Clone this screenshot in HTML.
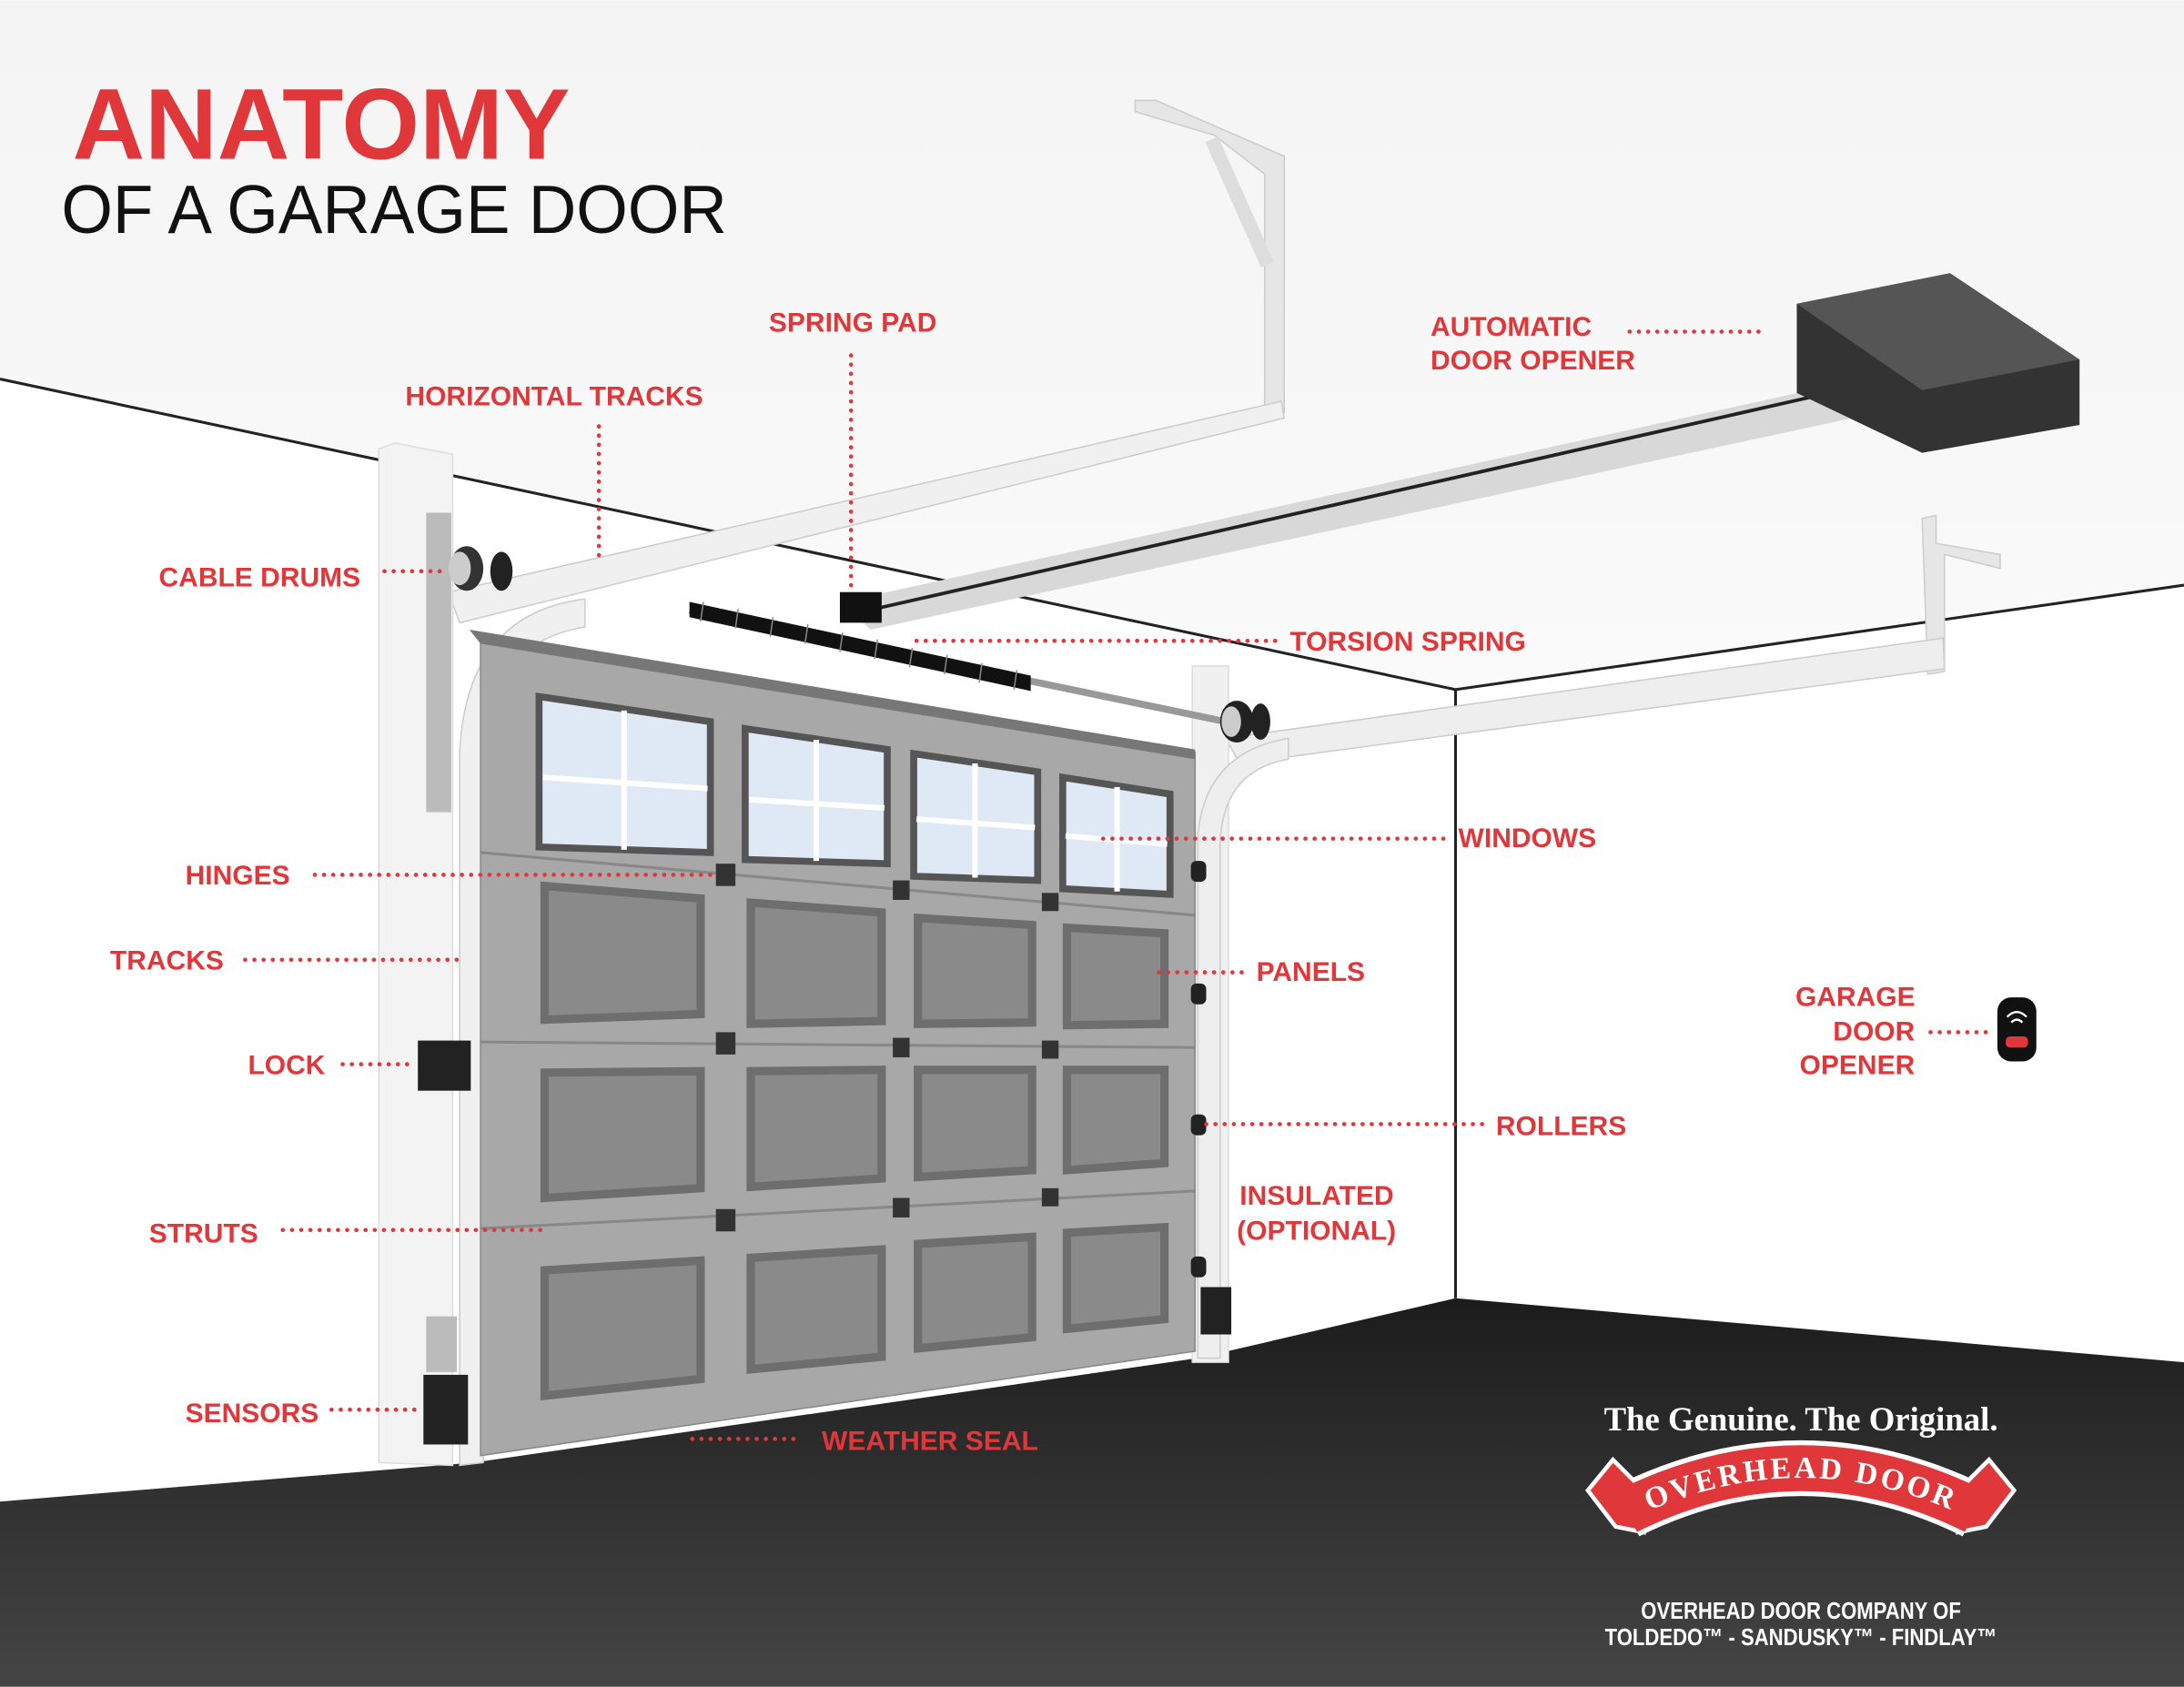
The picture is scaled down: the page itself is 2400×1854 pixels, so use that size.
<!DOCTYPE html>
<html><head><meta charset="utf-8"><style>
html,body{margin:0;padding:0;width:2400px;height:1854px;overflow:hidden;background:#fff}
svg{display:block}
.l{font-family:"Liberation Sans",sans-serif;font-weight:bold;font-size:19.6px;fill:#e0373b}
.d{stroke:#e0373b;stroke-width:3;stroke-dasharray:0.1 6.5;stroke-linecap:round;fill:none}
</style></head><body>
<svg width="2400" height="1854" viewBox="0 0 1568 1211" xmlns="http://www.w3.org/2000/svg">
<defs>
<linearGradient id="fl" x1="0" y1="0" x2="0" y2="1"><stop offset="0" stop-color="#1c1c1c"/><stop offset="1" stop-color="#454545"/></linearGradient>
<linearGradient id="cl" x1="0" y1="0" x2="0" y2="1"><stop offset="0" stop-color="#f4f4f4"/><stop offset="1" stop-color="#fafafa"/></linearGradient>
<path id="arc" d="M1168,1092 Q1293,1030 1418,1092"/>
</defs>
<rect width="1568" height="1211" fill="#fff"/>
<polygon points="0,0 1568,0 1568,420 1045,495 0,272" fill="url(#cl)"/>
<polyline points="0,272 1045,495 1568,420" fill="none" stroke="#222" stroke-width="2"/>
<line x1="1045" y1="495" x2="1045" y2="932" stroke="#222" stroke-width="2"/>
<polygon points="0,1078 340,1050 860,975 1045,932 1568,978 1568,1211 0,1211" fill="url(#fl)"/>

<!-- title -->
<text x="52" y="114" font-family="Liberation Sans,sans-serif" font-weight="bold" font-size="72" fill="#e0373b">ANATOMY</text>
<text x="44" y="167" font-family="Liberation Sans,sans-serif" font-size="49" fill="#111" textLength="478" lengthAdjust="spacingAndGlyphs">OF A GARAGE DOOR</text>

<!-- left bracket -->
<polygon points="815,72 830,72 922,112 922,296 908,298 908,125 872,97 815,80" fill="#e6e6e6" stroke="#ccc" stroke-width="1"/>
<line x1="870" y1="100" x2="910" y2="190" stroke="#ddd" stroke-width="10"/>
<!-- right bracket -->
<polygon points="1380,372 1390,370 1390,390 1436,398 1436,408 1396,398 1396,482 1384,484" fill="#e6e6e6" stroke="#ccc"/>
<!-- horizontal tracks -->
<polygon points="322,425 920,288 922,300 330,447" fill="#f0f0f0" stroke="#ccc"/>
<polygon points="880,530 1395,458 1396,480 890,548" fill="#eeeeee" stroke="#ccc"/>
<!-- opener rail -->
<polygon points="605,432 1300,280 1330,290 1330,300 625,452" fill="#d8d8d8"/>
<line x1="615" y1="440" x2="1300" y2="285" stroke="#222" stroke-width="2.5"/>
<rect x="603" y="425" width="30" height="22" fill="#111"/>
<!-- opener box -->
<polygon points="1290,218 1400,196 1493,258 1493,305 1380,325 1290,282" fill="#333"/>
<polygon points="1290,218 1400,196 1493,258 1380,280" fill="#555"/>

<!-- left pillar -->
<polygon points="284,318 325,326 325,1052 272,1050 272,322" fill="#f3f3f3" stroke="#ddd"/>
<rect x="306" y="368" width="18" height="215" fill="#bbb"/>
<rect x="306" y="945" width="22" height="40" fill="#bbb"/>
<!-- curved left track -->
<path d="M330,1052 L330,540 Q335,440 420,430 L420,450 Q348,462 347,545 L347,1050 Z" fill="#f0f0f0" stroke="#ccc"/>
<!-- right pillar -->
<rect x="856" y="478" width="26" height="500" fill="#f0f0f0" stroke="#ddd"/>
<path d="M860,975 L860,600 Q865,540 925,530 L925,545 Q878,553 876,605 L876,975 Z" fill="#eee" stroke="#ccc"/>

<!-- door -->
<polygon points="345,455 858,540 858,970 345,1045" fill="#a8a8a8" stroke="#888"/>
<polygon points="337,452 858,538 858,545 345,462" fill="#777"/>
<line x1="345" y1="612" x2="858" y2="657" stroke="#888" stroke-width="2"/>
<line x1="345" y1="748" x2="858" y2="752" stroke="#888" stroke-width="2"/>
<line x1="345" y1="882" x2="858" y2="855" stroke="#888" stroke-width="2"/>
<!-- windows -->
<g fill="#dfe8f5" stroke="#555" stroke-width="5">
<polygon points="387,500 510,518 510,612 387,608"/>
<polygon points="535,523 637,538 637,620 535,617"/>
<polygon points="656,541 745,554 745,632 656,629"/>
<polygon points="763,558 840,570 840,642 763,638"/>
</g>
<g stroke="#fff" stroke-width="4">
<line x1="448" y1="510" x2="448" y2="610"/><line x1="390" y1="558" x2="508" y2="566"/>
<line x1="586" y1="531" x2="586" y2="618"/><line x1="538" y1="574" x2="635" y2="580"/>
<line x1="700" y1="548" x2="700" y2="630"/><line x1="658" y1="588" x2="743" y2="594"/>
<line x1="802" y1="565" x2="802" y2="640"/><line x1="765" y1="600" x2="838" y2="606"/>
</g>
<!-- panels -->
<g fill="#8a8a8a" stroke="#6e6e6e" stroke-width="6">
<polygon points="391,636 503,645 503,728 391,732"/>
<polygon points="539,648 633,655 633,733 539,735"/>
<polygon points="659,659 741,664 741,734 659,735"/>
<polygon points="766,666 836,670 836,735 766,736"/>
<polygon points="391,770 503,769 503,853 391,860"/>
<polygon points="539,769 633,768 633,846 539,852"/>
<polygon points="659,768 741,768 741,840 659,845"/>
<polygon points="766,768 836,768 836,835 766,840"/>
<polygon points="391,912 503,905 503,990 391,1002"/>
<polygon points="539,903 633,897 633,974 539,983"/>
<polygon points="659,893 741,888 741,960 659,968"/>
<polygon points="766,885 836,881 836,947 766,954"/>
</g>
<!-- hinges -->
<g fill="#333">
<rect x="514" y="620" width="14" height="16"/><rect x="641" y="632" width="12" height="14"/><rect x="748" y="641" width="12" height="13"/>
<rect x="514" y="741" width="14" height="16"/><rect x="641" y="745" width="12" height="14"/><rect x="748" y="747" width="12" height="13"/>
<rect x="514" y="868" width="14" height="16"/><rect x="641" y="860" width="12" height="14"/><rect x="748" y="853" width="12" height="13"/>
</g>
<!-- rollers -->
<g fill="#222"><rect x="855" y="618" width="11" height="15" rx="4"/><rect x="855" y="706" width="11" height="15" rx="4"/><rect x="855" y="800" width="11" height="15" rx="4"/><rect x="855" y="902" width="11" height="15" rx="4"/></g>
<!-- spring -->
<line x1="495" y1="438" x2="880" y2="518" stroke="#999" stroke-width="5"/>
<path d="M495,432 L740,485 L740,496 L495,443 Z" fill="#111"/>
<g stroke="#888" stroke-width="1">
<line x1="505" y1="432" x2="503" y2="446"/><line x1="530" y1="437" x2="528" y2="451"/><line x1="555" y1="443" x2="553" y2="457"/><line x1="580" y1="448" x2="578" y2="462"/><line x1="605" y1="454" x2="603" y2="468"/><line x1="630" y1="459" x2="628" y2="473"/><line x1="655" y1="465" x2="653" y2="479"/><line x1="680" y1="470" x2="678" y2="484"/><line x1="705" y1="476" x2="703" y2="490"/><line x1="730" y1="481" x2="728" y2="495"/>
</g>
<!-- drums -->
<ellipse cx="335" cy="408" rx="12" ry="16" fill="#333"/><ellipse cx="330" cy="408" rx="8" ry="12" fill="#ccc"/><ellipse cx="360" cy="410" rx="8" ry="14" fill="#222"/>
<ellipse cx="888" cy="518" rx="12" ry="15" fill="#222"/><ellipse cx="884" cy="518" rx="7" ry="11" fill="#ccc"/><ellipse cx="905" cy="518" rx="7" ry="13" fill="#222"/>
<!-- lock, sensors -->
<rect x="300" y="747" width="38" height="36" fill="#222"/>
<rect x="304" y="987" width="32" height="50" fill="#222"/>
<rect x="862" y="924" width="22" height="34" fill="#222"/>
<!-- remote -->
<rect x="1434" y="716" width="28" height="46" rx="10" fill="#111"/>
<rect x="1440" y="744" width="16" height="8" rx="3" fill="#e0373b"/>
<path d="M1441,730 Q1448,723 1455,730 M1444,734 Q1448,730 1452,734" stroke="#fff" stroke-width="1.5" fill="none"/>

<!-- labels -->
<text class="l" x="552" y="238">SPRING PAD</text>
<path class="d" d="M611,255 L611,420"/>
<text class="l" x="291" y="291">HORIZONTAL TRACKS</text>
<path class="d" d="M430,306 L430,400"/>
<text class="l" x="1027" y="241">AUTOMATIC</text>
<text class="l" x="1027" y="265">DOOR OPENER</text>
<path class="d" d="M1170,238 L1268,238"/>
<text class="l" x="114" y="421">CABLE DRUMS</text>
<path class="d" d="M276,410 L318,410"/>
<text class="l" x="926" y="467">TORSION SPRING</text>
<path class="d" d="M658,460 L916,460"/>
<text class="l" x="1047" y="608">WINDOWS</text>
<path class="d" d="M792,602 L1040,602"/>
<text class="l" x="133" y="635">HINGES</text>
<path class="d" d="M226,628 L512,628"/>
<text class="l" x="79" y="696">TRACKS</text>
<path class="d" d="M176,689 L328,689"/>
<text class="l" x="902" y="704">PANELS</text>
<path class="d" d="M832,698 L896,698"/>
<text class="l" x="1289" y="722">GARAGE</text>
<text class="l" x="1316" y="747">DOOR</text>
<text class="l" x="1292" y="771">OPENER</text>
<path class="d" d="M1386,741 L1428,741"/>
<text class="l" x="178" y="771">LOCK</text>
<path class="d" d="M246,764 L296,764"/>
<text class="l" x="1074" y="815">ROLLERS</text>
<path class="d" d="M866,807 L1068,807"/>
<text class="l" x="890" y="865">INSULATED</text>
<text class="l" x="888" y="890">(OPTIONAL)</text>
<text class="l" x="107" y="892">STRUTS</text>
<path class="d" d="M203,883 L392,883"/>
<text class="l" x="133" y="1021">SENSORS</text>
<path class="d" d="M238,1012 L298,1012"/>
<text class="l" x="590" y="1041">WEATHER SEAL</text>
<path class="d" d="M497,1033 L572,1033"/>

<!-- logo -->
<text x="1293" y="1027" text-anchor="middle" font-family="Liberation Serif,serif" font-weight="bold" font-size="24" fill="#fff">The Genuine. The Original.</text>
<path d="M1168,1085 Q1293,1023 1418,1085" stroke="#fff" stroke-width="40" fill="none"/>
<path d="M1140,1070 L1158,1048 L1175,1065 L1180,1100 L1160,1096 Z M1446,1070 L1428,1048 L1411,1065 L1406,1100 L1426,1096 Z" fill="#e0373b" stroke="#fff" stroke-width="3"/>
<path d="M1168,1085 Q1293,1023 1418,1085" stroke="#e0373b" stroke-width="33" fill="none"/>
<text font-family="Liberation Serif,serif" font-weight="bold" font-size="22" fill="#fff" letter-spacing="2"><textPath href="#arc" startOffset="50%" text-anchor="middle">OVERHEAD DOOR</textPath></text>
<text x="1293" y="1162" text-anchor="middle" font-family="Liberation Sans,sans-serif" font-weight="bold" font-size="17" fill="#fff" transform="translate(1293 0) scale(0.85 1) translate(-1293 0)">OVERHEAD DOOR COMPANY OF</text>
<text x="1293" y="1181" text-anchor="middle" font-family="Liberation Sans,sans-serif" font-weight="bold" font-size="17" fill="#fff" transform="translate(1293 0) scale(0.85 1) translate(-1293 0)">TOLDEDO™ - SANDUSKY™ - FINDLAY™</text>
</svg>
</body></html>
